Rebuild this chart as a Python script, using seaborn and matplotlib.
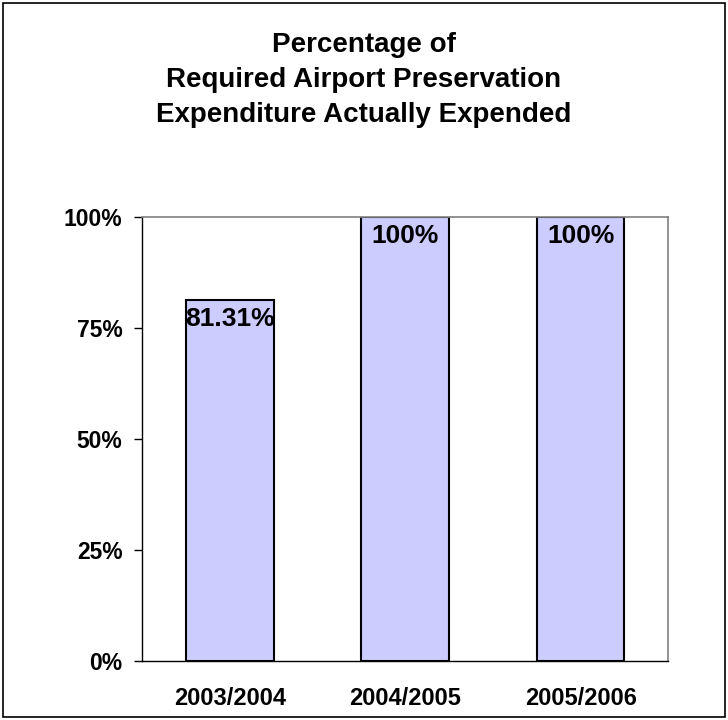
import seaborn as sns
import matplotlib

matplotlib.use("Agg")
import matplotlib.pyplot as plt
import pandas
from matplotlib.patches import Rectangle

years = ["2003/2004", "2004/2005", "2005/2006"]
percent = [81.31, 100, 100]
labels = ["81.31%", "100%", "100%"]
yticks = [0, 25, 50, 75, 100]

sns.set_style("white")
plt.rcParams["font.family"] = ["Liberation Sans", "DejaVu Sans"]
plt.rcParams["font.weight"] = "bold"
plt.rcParams["text.color"] = "black"
plt.rcParams["xtick.color"] = "black"
plt.rcParams["ytick.color"] = "black"

data = pandas.DataFrame({"year": years, "percent": percent})

fig = plt.figure(figsize=(7.28, 7.2), dpi=100)
ax = fig.add_axes([0.195, 0.082, 0.723, 0.617])

sns.barplot(
    data=data,
    x="year",
    y="percent",
    color="#CCCCFF",
    saturation=1,
    width=0.5,
    edgecolor="black",
    linewidth=1.5,
    ax=ax,
)

# value labels sit just inside the top of each bar
for i, (v, lab) in enumerate(zip(percent, labels)):
    ax.text(i, v - 1.6, lab, ha="center", va="top", fontsize=19,
            fontweight="bold", color="black")

ax.set_ylim(0, 100)
ax.set_xlim(-0.5, 2.5)
ax.set_yticks(yticks)
ax.set_yticklabels([f"{t}%" for t in yticks], fontsize=16.5, fontweight="bold")
ax.set_xticks([0, 1, 2])
ax.set_xticklabels(years, fontsize=17, fontweight="bold")
ax.set_xticks([-0.5, 0.5, 1.5, 2.5], minor=True)
ax.tick_params(axis="x", which="major", length=0, pad=19)
ax.tick_params(axis="x", which="minor", length=6, width=1, color="black", direction="out")
ax.tick_params(axis="y", length=6, width=1, color="black", direction="out", left=True, pad=8)
ax.set_xlabel("")
ax.set_ylabel("")

for side in ["left", "bottom"]:
    ax.spines[side].set_color("black")
    ax.spines[side].set_linewidth(1)
for side in ["top", "right"]:
    ax.spines[side].set_color("#808080")
    ax.spines[side].set_linewidth(1.2)

fig.text(
    0.5,
    0.889,
    "Percentage of\nRequired Airport Preservation\nExpenditure Actually Expended",
    ha="center",
    va="center",
    fontsize=20,
    fontweight="bold",
    linespacing=1.45,
    color="black",
)

fig.patches.append(
    Rectangle((0.004, 0.004), 0.992, 0.992, transform=fig.transFigure,
              fill=False, edgecolor="black", linewidth=1.2)
)

fig.savefig("out.png", dpi=100)
